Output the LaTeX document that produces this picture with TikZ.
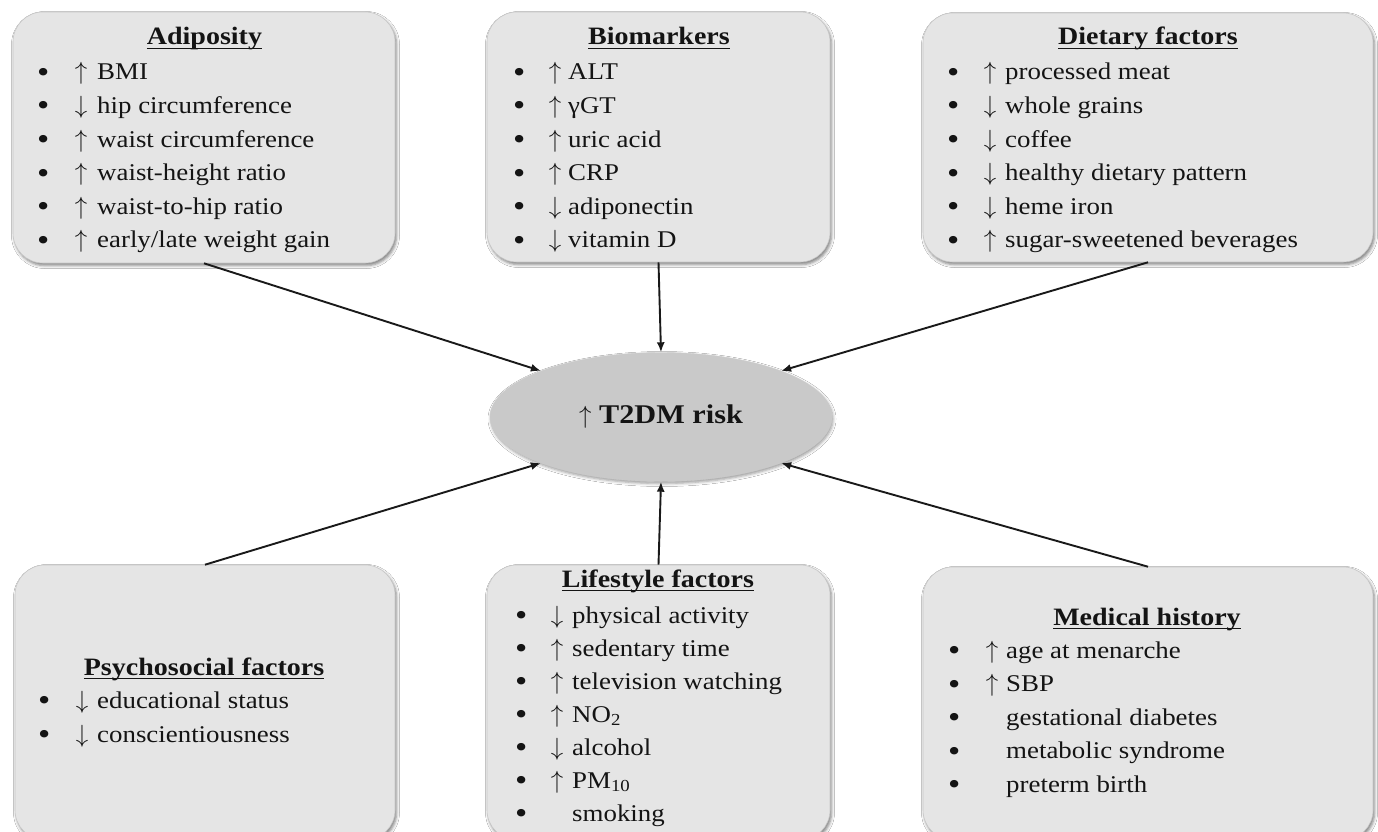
\documentclass[tikz,border=0pt]{standalone}
\usepackage{fontspec}
\setmainfont[FakeStretch=1.12]{Liberation Serif}
\usetikzlibrary{shapes.geometric,arrows.meta,shadows.blur}
\newcommand\uln[1]{\setbox0\hbox{#1}\rlap{\rule[-4pt]{\wd0}{1.3pt}}\box0}
\newcommand\UP{\ensuremath{\uparrow}}
\newcommand\DN{\ensuremath{\downarrow}}
\newcommand\itm[4]{\node[itemtext] (#1) at (\bX,#2) {\makebox[0pt]{\raisebox{-2.5pt}{\scalebox{1.3}{•}}}\hspace*{\dimexpr\aX pt-\bX pt\relax}\makebox[0pt]{#3}\hspace*{\dimexpr\tX pt-\aX pt\relax}#4};}
\tikzset{
  box/.style={rectangle, rounded corners=30pt, fill=black!10, draw=black!22, line width=0.6pt,
    blur shadow={shadow xshift=1.5pt, shadow yshift=-2.5pt, shadow blur radius=3pt, shadow opacity=50}, inner sep=0pt},
  head/.style={anchor=base, inner sep=0pt, font=\fontsize{25}{29}\selectfont\bfseries, text=black!92},
  itemtext/.style={anchor=base west, inner sep=0pt, font=\fontsize{24}{28}\selectfont, text=black!92},
  risk/.style={ellipse, fill=black!21, draw=black!20, line width=0.4pt, minimum width=342pt, minimum height=129pt, inner sep=0pt,
    blur shadow={shadow xshift=1pt, shadow yshift=-2pt, shadow blur radius=3pt, shadow opacity=40},
    font=\fontsize{27}{32}\selectfont\bfseries, text=black!92},
  conn/.style={line width=1.9pt, black!90, -{Latex[length=10pt,width=8pt]}}
}
\begin{document}
\begin{tikzpicture}[x=1pt,y=-1pt]
\useasboundingbox (0,0) rectangle (1378,832);
\fill[white] (0,0) rectangle (1378,832);
% boxes
\node[box, minimum width=382pt, minimum height=251pt] (adip) at (204,137.5) {};
\node[box, minimum width=343pt, minimum height=250pt] (bio) at (658.5,137) {};
\node[box, minimum width=450pt, minimum height=249pt] (diet) at (1148,137.5) {};
\node[box, minimum width=380pt, minimum height=275pt] (psy) at (205,702.5) {};
\node[box, minimum width=343pt, minimum height=275pt] (life) at (658.5,702.5) {};
\node[box, minimum width=450pt, minimum height=273pt] (med) at (1148,703.5) {};
% central
\node[risk] (t2dm) at (661,417) {\UP\ T2DM risk};
% Adiposity
\node[head] (adipH) at (204.5,45) {\uln{Adiposity}};
\def\bX{43}\def\aX{81}\def\tX{97}
\itm{adip1}{80}{\UP}{BMI}
\itm{adip2}{113.5}{\DN}{hip circumference}
\itm{adip3}{147}{\UP}{waist circumference}
\itm{adip4}{180.5}{\UP}{waist-height ratio}
\itm{adip5}{214}{\UP}{waist-to-hip ratio}
\itm{adip6}{247.5}{\UP}{early/late weight gain}
% Biomarkers
\node[head] (bioH) at (659,45) {\uln{Biomarkers}};
\def\bX{519}\def\aX{555}\def\tX{568}
\itm{bio1}{80}{\UP}{ALT}
\itm{bio2}{113.5}{\UP}{γGT}
\itm{bio3}{147}{\UP}{uric acid}
\itm{bio4}{180.5}{\UP}{CRP}
\itm{bio5}{214}{\DN}{adiponectin}
\itm{bio6}{247.5}{\DN}{vitamin D}
% Dietary
\node[head] (dietH) at (1148,45) {\uln{Dietary factors}};
\def\bX{953}\def\aX{990}\def\tX{1005}
\itm{diet1}{80}{\UP}{processed meat}
\itm{diet2}{113.5}{\DN}{whole grains}
\itm{diet3}{147}{\DN}{coffee}
\itm{diet4}{180.5}{\DN}{healthy dietary pattern}
\itm{diet5}{214}{\DN}{heme iron}
\itm{diet6}{247.5}{\UP}{sugar-sweetened beverages}
% Psychosocial
\node[head] (psyH) at (204,675) {\uln{Psychosocial factors}};
\def\bX{44}\def\aX{82}\def\tX{97}
\itm{psy1}{708}{\DN}{educational status}
\itm{psy2}{742}{\DN}{conscientiousness}
% Lifestyle
\node[head] (lifeH) at (658,587) {\uln{Lifestyle factors}};
\def\bX{521}\def\aX{557}\def\tX{572}
\itm{life1}{623}{\DN}{physical activity}
\itm{life2}{656}{\UP}{sedentary time}
\itm{life3}{689}{\UP}{television watching}
\itm{life4}{722}{\UP}{NO\textsubscript{2}}
\itm{life5}{755}{\DN}{alcohol}
\itm{life6}{788}{\UP}{PM\textsubscript{10}}
\itm{life7}{821}{}{smoking}
% Medical history
\node[head] (medH) at (1147,625) {\uln{Medical history}};
\def\bX{954}\def\aX{992}\def\tX{1006}
\itm{med1}{658}{\UP}{age at menarche}
\itm{med2}{691.5}{\UP}{SBP}
\itm{med3}{725}{}{gestational diabetes}
\itm{med4}{758.5}{}{metabolic syndrome}
\itm{med5}{792}{}{preterm birth}
% connectors
\draw[conn] (adip.south) -- (t2dm.159);
\draw[conn] (bio.south) -- (t2dm.north);
\draw[conn] (diet.south) -- (t2dm.21);
\draw[conn] (psy.north) -- (t2dm.201);
\draw[conn] (life.north) -- (t2dm.south);
\draw[conn] (med.north) -- (t2dm.339);
\end{tikzpicture}
\end{document}
